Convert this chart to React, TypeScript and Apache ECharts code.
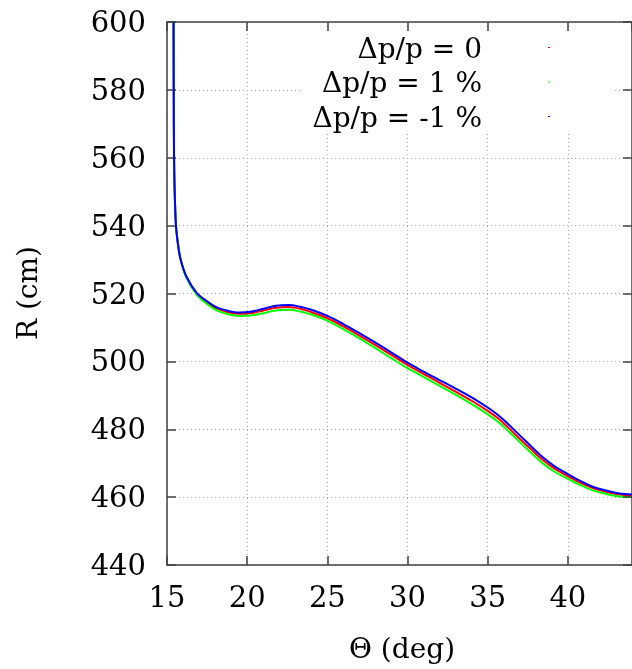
import React, { useEffect, useRef } from "react";
import * as echarts from "echarts";

const theta = [15.40, 15.41, 15.42, 15.44, 15.48, 15.56, 15.70, 15.85, 16.2, 16.85, 17.5, 18.1, 18.8, 19.5, 20.2, 21.0, 21.8, 22.6, 23.3, 24.0, 25.0, 26.0, 27.0, 28.0, 29.0, 30.0, 31.0, 32.0, 33.0, 34.0, 35.0, 35.7, 36.3, 37.0, 37.7, 38.4, 39.2, 40.0, 40.8, 41.6, 42.5, 43.2, 44.0];
const rZero = [640, 600, 580, 560, 550, 540, 534, 530, 525, 520, 517.4, 515.6, 514.5, 514.0, 514.2, 515.0, 515.8, 516.0, 515.5, 514.5, 512.7, 510.3, 507.6, 504.8, 501.9, 499.0, 496.3, 493.7, 491.1, 488.4, 485.4, 483.0, 480.4, 477.2, 474.1, 471.1, 468.3, 466.2, 464.2, 462.6, 461.4, 460.8, 460.5];
const rPlus1 = [640, 600, 580, 560, 550, 540, 534, 530, 524.8, 519.7, 516.9, 515.0, 513.9, 513.4, 513.5, 514.2, 515.0, 515.2, 514.7, 513.8, 512.0, 509.5, 506.8, 503.9, 500.9, 498.0, 495.4, 492.8, 490.2, 487.4, 484.4, 482.0, 479.4, 476.2, 473.1, 470.1, 467.4, 465.4, 463.5, 461.9, 460.8, 460.2, 460.0];
const rMinus1 = [640, 600, 580, 560, 550, 540, 534, 530, 525.1, 520.2, 517.7, 515.9, 514.9, 514.4, 514.6, 515.5, 516.4, 516.6, 516.1, 515.2, 513.4, 511.0, 508.3, 505.5, 502.6, 499.6, 497.0, 494.5, 492.0, 489.4, 486.4, 484.0, 481.4, 478.2, 475.0, 471.9, 469.0, 466.8, 464.7, 463.0, 461.8, 461.1, 460.8];

const seriesNames = ["Δp/p = 0", "Δp/p = 1 %", "Δp/p = -1 %"];
const seriesColors = ["#ff0000", "#00ff00", "#0000ff"];
const seriesValues = [rZero, rPlus1, rMinus1];

const FONT = "DejaVu Serif";
const AXIS_COLOR = "#404040";

export default function App() {
  const ref = useRef<HTMLDivElement>(null);
  useEffect(() => {
    if (!ref.current) return;
    const chart = echarts.init(ref.current, null, { renderer: "svg" });
    const gridLeft = 167;
    const gridTop = 22;
    const gridBottom = 104;
    const gridWidth = 470;

    const axisCommon = {
      axisLine: { show: true, lineStyle: { color: AXIS_COLOR, width: 1.5 } },
      axisTick: { show: true, inside: true, length: 9, lineStyle: { color: AXIS_COLOR, width: 1.5 } },
    };

    chart.setOption({
      animation: false,
      textStyle: { fontFamily: FONT },
      grid: { left: gridLeft, top: gridTop, bottom: gridBottom, width: gridWidth, containLabel: false },
      xAxis: [
        {
          type: "value",
          min: 15,
          max: 44,
          interval: 5,
          position: "bottom",
          ...axisCommon,
          axisLabel: {
            color: "#000",
            fontFamily: FONT,
            fontSize: 29,
            margin: 17,
            showMaxLabel: false,
            formatter: (v: number) => (v % 5 === 0 ? String(v) : ""),
          },
          splitLine: { show: true, lineStyle: { color: "#a8a8a8", width: 1, type: [1, 3] } },
        },
        {
          type: "value",
          min: 15,
          max: 44,
          interval: 5,
          position: "top",
          z: 10,
          ...axisCommon,
          axisLabel: { show: false },
          splitLine: { show: false },
        },
      ],
      yAxis: [
        {
          type: "value",
          min: 440,
          max: 600,
          interval: 20,
          position: "left",
          ...axisCommon,
          axisLabel: { color: "#000", fontFamily: FONT, fontSize: 29, margin: 21 },
          splitLine: { show: true, lineStyle: { color: "#a8a8a8", width: 1, type: [1, 3] } },
        },
        {
          type: "value",
          min: 440,
          max: 600,
          interval: 20,
          position: "right",
          z: 10,
          ...axisCommon,
          axisLabel: { show: false },
          splitLine: { show: false },
        },
      ],
      series: seriesValues.map((vals, i) => ({
        type: "line",
        name: seriesNames[i],
        data: theta.map((t, k) => [t, vals[k]]),
        showSymbol: false,
        smooth: 0.35,
        clip: true,
        lineStyle: { color: seriesColors[i], width: 2 },
        itemStyle: { color: seriesColors[i] },
        z: 2 + i,
      })),
      graphic: [
        { type: "rect", z: 5, shape: { x: 303, y: 31, width: 312, height: 102 }, style: { fill: "#fff" } },
        ...seriesNames.map((n, i) => ({
          type: "text",
          z: 6,
          x: 482,
          y: 48 + i * 34.5,
          style: { text: n, fontFamily: FONT, fontSize: 28, fill: "#000", textAlign: "right", textVerticalAlign: "middle" },
        })),
        ...seriesColors.map((c, i) => ({
          type: "rect",
          z: 6,
          shape: { x: 548, y: 47 + i * 34.5, width: 2, height: 1 },
          style: { fill: c },
        })),
        {
          type: "text",
          x: 27,
          y: 293,
          rotation: Math.PI / 2,
          style: { text: "R (cm)", fontFamily: FONT, fontSize: 28, fill: "#000", textAlign: "center", textVerticalAlign: "middle" },
        },
        {
          type: "text",
          x: 402,
          y: 648,
          style: { text: "Θ (deg)", fontFamily: FONT, fontSize: 28, fill: "#000", textAlign: "center", textVerticalAlign: "middle" },
        },
      ],
    });
    return () => chart.dispose();
  }, []);
  return <div ref={ref} style={{ position: "fixed", left: 0, top: 0, width: 632, height: 669 }} />;
}
